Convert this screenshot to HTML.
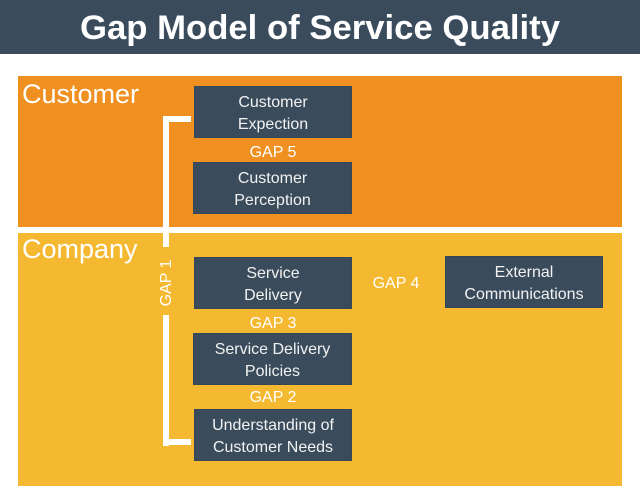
<!DOCTYPE html>
<html>
<head>
<meta charset="utf-8">
<style>
  html, body { margin:0; padding:0; }
  body { width:640px; height:500px; background:#ffffff; position:relative; overflow:hidden;
         font-family:"Liberation Sans", Arial, sans-serif; }
  .hdr { position:absolute; left:0; top:0; width:640px; height:54px; background:#3a4b5c; }
  .title { position:absolute; left:0; top:1px; width:640px; text-align:center; color:#fff;
           font-weight:bold; font-size:34.7px; line-height:54px; }
  .zone { position:absolute; left:18px; width:604px; }
  .cust { top:76px; height:151px; background:#f09020; }
  .comp { top:233px; height:253px; background:#f4b930; }
  .zlabel { position:absolute; color:#fff; font-size:27px; line-height:30px; }
  .box { position:absolute; background:#3a4b5c; border:1px solid #34465a; box-sizing:border-box;
         color:#f2f2f2; font-size:16px; line-height:22px; text-align:center; padding-top:3px;
         display:flex; align-items:center; justify-content:center; }
  .gap { position:absolute; color:#fff; font-size:16px; line-height:18px; text-align:center; }
  .bar { position:absolute; background:#fff; }
</style>
</head>
<body>
  <div class="hdr"></div>
  <div class="title">Gap Model of Service Quality</div>

  <div class="zone cust"></div>
  <div class="zone comp"></div>

  <div class="zlabel" style="left:22px; top:79px;">Customer</div>
  <div class="zlabel" style="left:22px; top:234px;">Company</div>

  <!-- bracket -->
  <div class="bar" style="left:163px; top:116px; width:28px; height:6px;"></div>
  <div class="bar" style="left:163px; top:116px; width:6px; height:131px;"></div>
  <div class="bar" style="left:163px; top:315px; width:6px; height:131px;"></div>
  <div class="bar" style="left:163px; top:439px; width:28px; height:6px;"></div>
  <div class="gap" style="left:137px; top:274px; width:60px; transform:rotate(-90deg);">GAP 1</div>

  <div class="box" style="left:194px; top:86px; width:158px; height:52px;">Customer<br>Expection</div>
  <div class="gap" style="left:194px; top:144px; width:158px;">GAP 5</div>
  <div class="box" style="left:193px; top:162px; width:159px; height:52px;">Customer<br>Perception</div>

  <div class="box" style="left:194px; top:257px; width:158px; height:52px;">Service<br>Delivery</div>
  <div class="gap" style="left:194px; top:315px; width:158px;">GAP 3</div>
  <div class="box" style="left:193px; top:333px; width:159px; height:52px;">Service Delivery<br>Policies</div>
  <div class="gap" style="left:194px; top:389px; width:158px;">GAP 2</div>
  <div class="box" style="left:194px; top:409px; width:158px; height:52px;">Understanding of<br>Customer Needs</div>

  <div class="gap" style="left:356px; top:275px; width:80px;">GAP 4</div>
  <div class="box" style="left:445px; top:256px; width:158px; height:52px;">External<br>Communications</div>
</body>
</html>
